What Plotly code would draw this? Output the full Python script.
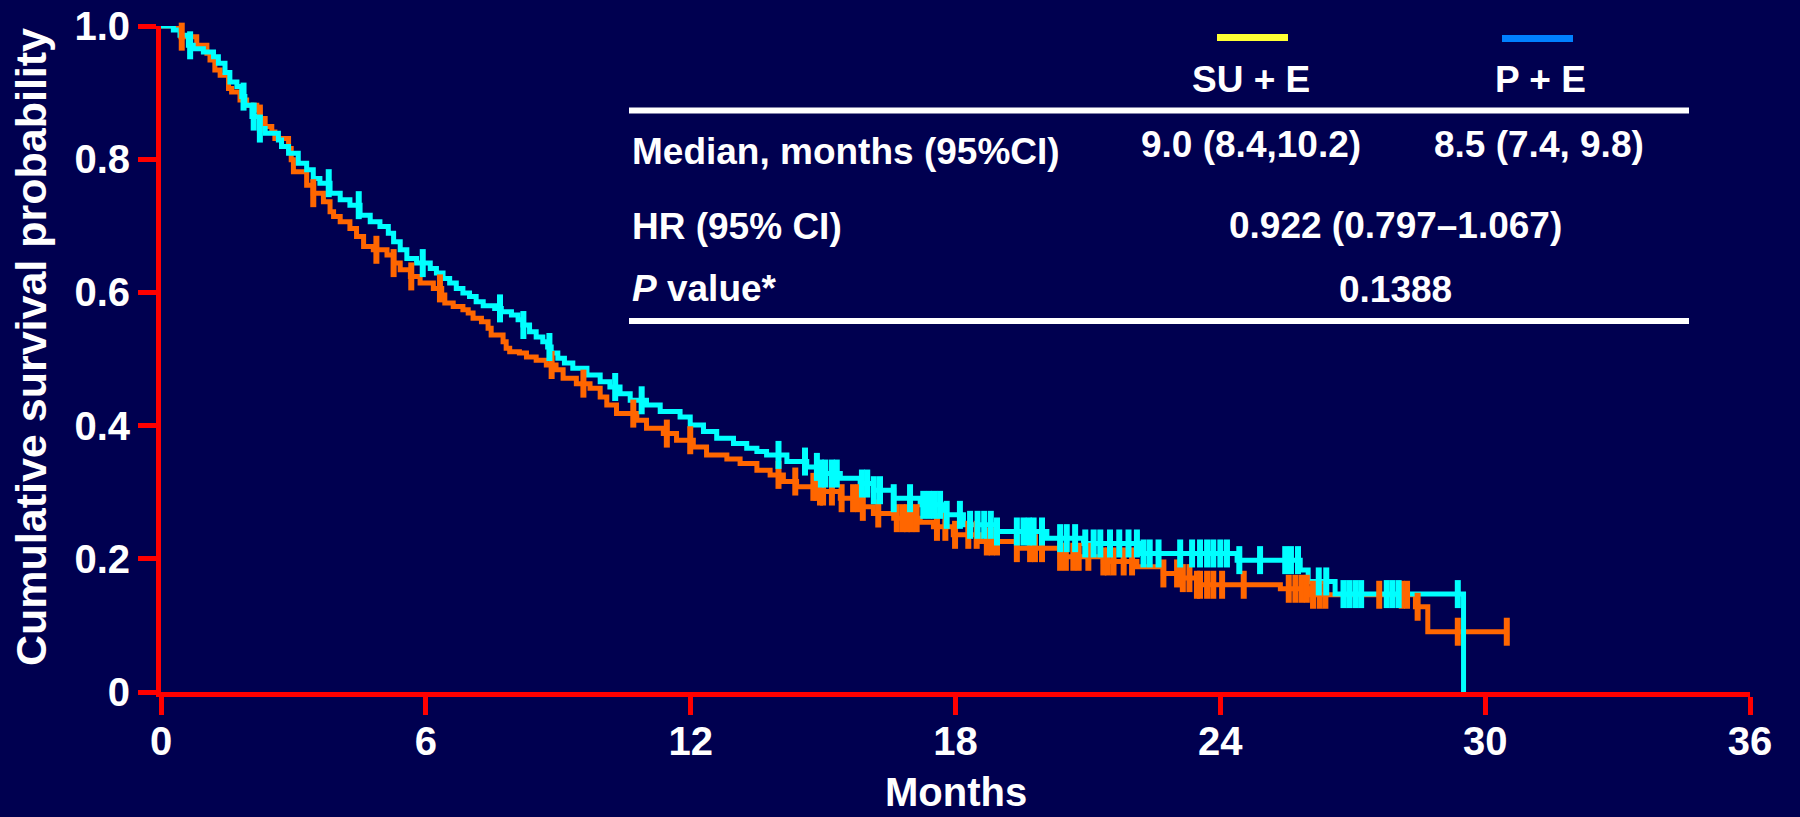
import numpy as np
import plotly.graph_objects as go

# ---------------- data ----------------
# P + E arm (orange curve)
pe_time = [0.0, 0.45, 0.81, 1.04, 1.11, 1.22, 1.34, 1.53, 1.60, 1.79, 1.94, 2.17, 2.24, 2.36, 2.51,
           2.58, 2.89, 2.95, 3.00, 3.30, 3.45, 3.68, 3.83, 3.91, 4.06, 4.28, 4.43, 4.59, 4.81, 5.12,
           5.27, 5.42, 5.65, 5.87, 6.17, 6.36, 6.43, 6.62, 6.84, 6.96, 7.07, 7.26, 7.41, 7.48, 7.75,
           7.82, 7.90, 8.12, 8.28, 8.50, 8.73, 8.95, 9.11, 9.41, 9.72, 9.95, 10.10, 10.32, 10.78,
           11.00, 11.38, 11.68, 12.06, 12.36, 12.82, 13.12, 13.50, 13.80, 14.10, 14.40, 14.93,
           15.39, 15.84, 16.14, 16.60, 17.20, 17.50, 17.95, 18.56, 19.39, 20.37, 21.35, 22.11,
           22.71, 23.09, 23.47, 25.36, 26.04, 28.42, 28.70, 30.49]
pe_surv = [1.0, 0.984, 0.971, 0.959, 0.949, 0.934, 0.926, 0.906, 0.901, 0.889, 0.881, 0.874, 0.861,
           0.849, 0.841, 0.831, 0.816, 0.799, 0.781, 0.761, 0.749, 0.736, 0.721, 0.714, 0.706, 0.696,
           0.684, 0.669, 0.664, 0.656, 0.644, 0.634, 0.624, 0.614, 0.606, 0.596, 0.584, 0.579, 0.574,
           0.569, 0.561, 0.556, 0.546, 0.536, 0.526, 0.516, 0.511, 0.509, 0.503, 0.498, 0.491, 0.484,
           0.471, 0.463, 0.456, 0.443, 0.431, 0.418, 0.408, 0.396, 0.388, 0.378, 0.368, 0.356, 0.350,
           0.343, 0.333, 0.326, 0.316, 0.308, 0.301, 0.291, 0.278, 0.268, 0.261, 0.255, 0.248, 0.236,
           0.226, 0.216, 0.203, 0.196, 0.188, 0.178, 0.171, 0.161, 0.155, 0.146, 0.128, 0.0905, 0.0905]
pe_censor = [0.47, 2.24, 3.45, 4.88, 5.27, 5.67, 6.32, 8.85, 9.57, 10.70, 11.46, 11.99, 13.99, 14.37,
             14.78, 14.85, 14.93, 15.00, 15.20, 15.42, 15.68, 15.80, 15.90, 16.25, 16.67, 16.80, 16.90,
             17.00, 17.12, 17.58, 17.77, 17.99, 18.29, 18.48, 18.71, 18.82, 18.94, 19.39, 19.69, 19.80,
             19.96, 20.37, 20.50, 20.67, 20.79, 21.01, 21.35, 21.45, 21.58, 21.81, 22.00, 22.71, 23.02,
             23.15, 23.30, 23.47, 23.54, 23.70, 23.84, 24.04, 24.53, 25.55, 25.70, 25.84, 25.96, 26.10,
             26.25, 26.38, 27.60, 28.11, 28.23, 28.47, 29.38, 30.49]

# SU + E arm (cyan curve)
su_time = [0.0, 0.28, 0.43, 0.62, 0.73, 0.96, 1.19, 1.30, 1.45, 1.56, 1.72, 1.83, 1.90, 2.06, 2.24,
           2.36, 2.66, 2.73, 2.89, 3.11, 3.30, 3.45, 3.60, 3.83, 4.06, 4.28, 4.51, 4.74, 4.96, 5.15,
           5.27, 5.42, 5.57, 5.79, 6.10, 6.24, 6.39, 6.54, 6.69, 6.84, 6.99, 7.14, 7.30, 7.56, 7.71,
           7.94, 8.09, 8.20, 8.35, 8.50, 8.65, 8.76, 8.84, 8.99, 9.14, 9.33, 9.65, 9.95, 10.17, 10.40,
           10.63, 11.00, 11.31, 11.76, 11.99, 12.29, 12.59, 12.97, 13.27, 13.50, 13.72, 14.18, 14.63,
           14.93, 15.39, 15.84, 16.14, 16.60, 17.20, 17.70, 18.18, 18.94, 20.07, 20.90, 22.18, 24.38,
           25.81, 25.99, 26.60, 29.51]
su_surv = [1.0, 0.994, 0.986, 0.971, 0.966, 0.961, 0.954, 0.944, 0.930, 0.916, 0.909, 0.894, 0.881,
           0.864, 0.846, 0.839, 0.829, 0.819, 0.809, 0.794, 0.784, 0.771, 0.764, 0.749, 0.739, 0.731,
           0.716, 0.706, 0.699, 0.689, 0.676, 0.664, 0.651, 0.644, 0.636, 0.629, 0.621, 0.614, 0.606,
           0.599, 0.594, 0.586, 0.580, 0.576, 0.571, 0.566, 0.559, 0.551, 0.541, 0.533, 0.526, 0.518,
           0.509, 0.501, 0.494, 0.486, 0.476, 0.466, 0.458, 0.448, 0.438, 0.431, 0.421, 0.413, 0.401,
           0.391, 0.381, 0.373, 0.366, 0.361, 0.356, 0.346, 0.338, 0.328, 0.321, 0.313, 0.303, 0.291,
           0.281, 0.266, 0.251, 0.241, 0.231, 0.223, 0.208, 0.198, 0.183, 0.166, 0.147, 0.0]
su_censor = [0.66, 1.87, 2.10, 2.24, 3.80, 4.48, 5.93, 7.68, 8.21, 8.80, 10.29, 10.89, 13.99, 14.59,
             14.86, 14.95, 15.05, 15.20, 15.31, 15.88, 16.00, 16.15, 16.29, 16.60, 16.97, 17.27, 17.40,
             17.52, 17.65, 17.80, 18.10, 18.33, 18.50, 18.65, 18.80, 18.94, 19.39, 19.54, 19.66, 19.77,
             19.96, 20.37, 20.52, 20.71, 20.94, 21.13, 21.28, 21.50, 21.71, 21.92, 22.11, 22.26, 22.40,
             22.60, 23.09, 23.36, 23.54, 23.70, 23.84, 24.00, 24.15, 24.43, 24.90, 25.47, 25.60, 25.76,
             26.23, 26.40, 26.79, 26.92, 27.06, 27.19, 27.77, 27.90, 28.04, 29.38]

x_ticks = [0, 6, 12, 18, 24, 30, 36]
y_ticks = [0, 0.2, 0.4, 0.6, 0.8, 1.0]
y_ticktext = ["0", "0.2", "0.4", "0.6", "0.8", "1.0"]

x_title = "Months"
y_title = "Cumulative survival probability"
arm_names = ["SU + E", "P + E"]
median_text = ["9.0 (8.4,10.2)", "8.5 (7.4, 9.8)"]
row_labels = ["Median, months (95%CI)", "HR (95% CI)", "<i>P</i> value*"]
hr_text = "0.922 (0.797\u20131.067)"
p_text = "0.1388"

# ---------------- styling ----------------
BG = "#000050"
RED = "#FF0000"
ORANGE = "#FF6600"
CYAN = "#00FFFF"
FONT = "Liberation Sans, Arial, Helvetica, sans-serif"

W, H = 1800, 817
ML, MR, MT, MB = 161, 50, 26, 125
PW, PH = W - ML - MR, H - MT - MB


def px(xp):
    return (xp - ML) / PW


def py(yp):
    return (H - MB - yp) / PH


def step_value(times, surv, t):
    idx = np.searchsorted(np.asarray(times), np.asarray(t), side="right") - 1
    return np.asarray(surv)[idx]


fig = go.Figure()

fig.add_trace(go.Scatter(x=pe_time, y=pe_surv, mode="lines", line=dict(color=ORANGE, width=5, shape="hv"),
                         name=arm_names[1], hoverinfo="skip"))
fig.add_trace(go.Scatter(x=su_time, y=su_surv, mode="lines", line=dict(color=CYAN, width=5, shape="hv"),
                         name=arm_names[0], hoverinfo="skip"))
fig.add_trace(go.Scatter(x=pe_censor, y=step_value(pe_time, pe_surv, pe_censor), mode="markers",
                         marker=dict(symbol="line-ns", size=20, line=dict(color=ORANGE, width=6)),
                         cliponaxis=False, name=arm_names[1] + " censored", hoverinfo="skip"))
fig.add_trace(go.Scatter(x=su_censor, y=step_value(su_time, su_surv, su_censor), mode="markers",
                         marker=dict(symbol="line-ns", size=20, line=dict(color=CYAN, width=6)),
                         cliponaxis=False, name=arm_names[0] + " censored", hoverinfo="skip"))

axis_common = dict(showline=True, linecolor=RED, linewidth=5, ticks="outside", ticklen=18,
                   tickwidth=5, tickcolor=RED, showgrid=False, zeroline=False, automargin=False,
                   tickfont=dict(family=FONT, size=40, color="white", weight="bold"))

fig.update_xaxes(range=[0, 36], tickvals=x_ticks, ticktext=[str(v) for v in x_ticks],
                 ticklabelstandoff=-8, **axis_common)
fig.update_yaxes(range=[0, 1.0], tickvals=y_ticks, ticktext=y_ticktext, **axis_common)

tfont = dict(family=FONT, size=37, color="white", weight="bold")
annotations = []


def add_text(text, xp, yp, anchor="center", font=tfont, angle=0, vanchor="middle"):
    annotations.append(dict(text=text, x=px(xp), y=py(yp), xref="paper", yref="paper",
                            xanchor=anchor, yanchor=vanchor, showarrow=False, font=font,
                            textangle=angle))


# axis titles
add_text(x_title, 955.5, 816, font=dict(family=FONT, size=40, color="white", weight="bold"),
         vanchor="bottom")
add_text(y_title, 31, 347, font=dict(family=FONT, size=43, color="white", weight="bold"), angle=-90)

# summary table
add_text(arm_names[0], 1251, 80)
add_text(arm_names[1], 1540, 80)
add_text(row_labels[0], 630, 151, "left")
add_text(median_text[0], 1251, 144)
add_text(median_text[1], 1539, 144)
add_text(row_labels[1], 630, 226, "left")
add_text(hr_text, 1395, 225)
add_text(row_labels[2], 630, 288, "left")
add_text(p_text, 1395, 290)

shapes = [
    dict(type="line", xref="paper", yref="paper", x0=px(629), x1=px(1689), y0=py(110.5), y1=py(110.5),
         line=dict(color="white", width=6)),
    dict(type="line", xref="paper", yref="paper", x0=px(629), x1=px(1689), y0=py(321), y1=py(321),
         line=dict(color="white", width=6)),
    dict(type="line", xref="paper", yref="paper", x0=px(1217), x1=px(1288), y0=py(37.5), y1=py(37.5),
         line=dict(color="#FFFF33", width=7)),
    dict(type="line", xref="paper", yref="paper", x0=px(1502), x1=px(1573), y0=py(38.5), y1=py(38.5),
         line=dict(color="#0080FF", width=7)),
]

fig.update_layout(width=W, height=H, margin=dict(l=ML, r=MR, t=MT, b=MB),
                  paper_bgcolor=BG, plot_bgcolor=BG, showlegend=False,
                  font=dict(family=FONT, color="white"),
                  annotations=annotations, shapes=shapes)

fig.write_html("out.html")
